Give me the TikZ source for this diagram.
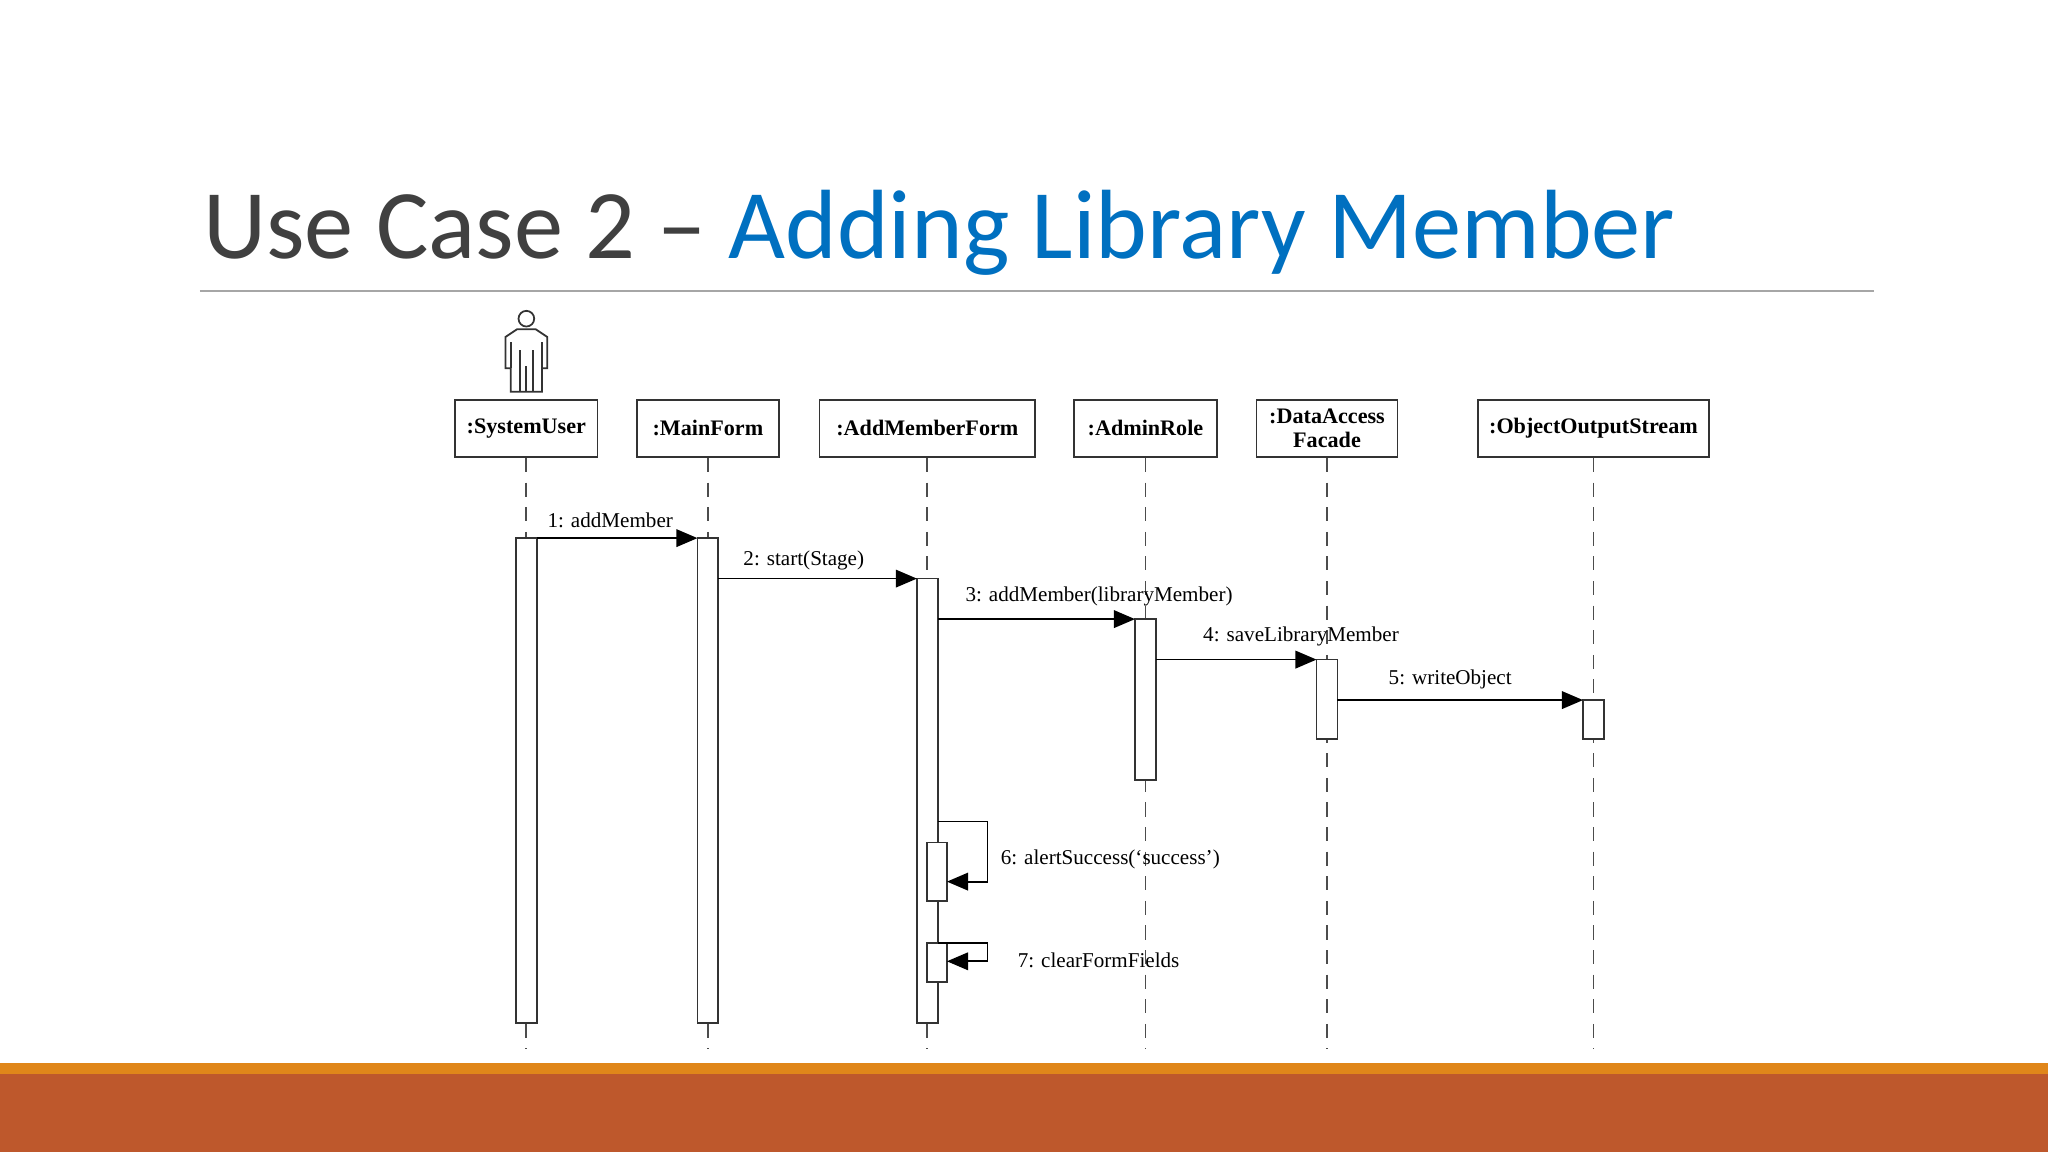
\documentclass[tikz,border=0pt]{standalone}
\usepackage{fontspec}
\setmainfont{Liberation Serif}
\newfontfamily\titlefont{Carlito}
\usetikzlibrary{arrows.meta}
\definecolor{titlegray}{HTML}{404040}
\definecolor{titleblue}{HTML}{0070C0}
\definecolor{barorange}{HTML}{E0861A}
\definecolor{barrust}{HTML}{BE582C}
\begin{document}
\begin{tikzpicture}[x=0.013061cm,y=-0.013061cm,
  obj/.style={draw=black!80,fill=white,line width=0.5pt,inner sep=0pt,font=\fontsize{6.3}{7}\selectfont\bfseries,align=center},
  life/.style={draw=black!70,dashed,line width=0.5pt,dash pattern=on 4pt off 3pt},
  act/.style={draw=black!80,fill=white,line width=0.5pt},
  msg/.style={draw=black,line width=0.5pt,-{Triangle[length=6pt,width=5pt]}},
  lbl/.style={font=\fontsize{6}{7}\selectfont,inner sep=1pt}]
\useasboundingbox (0,0) rectangle (1568,882);
\fill[white] (0,0) rectangle (1568,882);
% title
\node[anchor=base west,inner sep=0pt,font=\titlefont\fontsize{28}{30}\selectfont] (title) at (155,198)
  {\textcolor{titlegray}{Use Case 2 – }\textcolor{titleblue}{Adding Library Member}};
\draw[black!35,line width=0.6pt] (153,223) -- (1435,223);
% bottom bar
\fill[barorange] (0,814) rectangle (1568,822);
\fill[barrust] (0,822) rectangle (1568,882);
% objects
\foreach \n/\x/\w/\t in {su/403/109/{:SystemUser},mf/542/109/{:MainForm},amf/710/165/{:AddMemberForm},ar/877/109/{:AdminRole},da/1016/108/{:DataAccess\\Facade},oos/1220/177/{:ObjectOutputStream}}{
  \node[obj,minimum width=\w*0.013061cm,minimum height=44*0.013061cm] (\n) at (\x,328) {\t};
  \coordinate (\n end) at (\x,803);
  \draw[life] (\n.south) -- (\n end);
}
% actor
\node[draw=black!80,circle,minimum size=12*0.013061cm,inner sep=0pt,line width=0.5pt] (head) at (403,244) {};
\draw[black!80,line width=0.5pt] (head.south) ++(0,2) coordinate (neck);
\draw[black!80,line width=0.5pt,fill=white] (396,252) -- (410,252) -- (419,258) -- (419,282) -- (415,282) -- (415,300) -- (391,300) -- (391,282) -- (387,282) -- (387,258) -- cycle;
\draw[black!80,line width=0.5pt] (398,300) -- (398,268) (408,300) -- (408,268) (403,300)--(403,280) (391,262)--(391,282) (415,262)--(415,282);
% activations
\draw[act] (395,412) rectangle (411,783);
\draw[act] (534,412) rectangle (550,783);
\draw[act] (702,443) rectangle (718,783);
\draw[act] (869,474) rectangle (885,597);
\draw[act] (1008,505) rectangle (1024,566);
\draw[act] (1212,536) rectangle (1228,566);
\draw[act] (710,645) rectangle (725,690);
\draw[act] (710,722) rectangle (725,752);
% messages
\coordinate (m1a) at (411,412); \coordinate (m1b) at (534,412);
\coordinate (m2a) at (550,443); \coordinate (m2b) at (702,443);
\coordinate (m3a) at (718,474); \coordinate (m3b) at (869,474);
\coordinate (m4a) at (885,505); \coordinate (m4b) at (1008,505);
\coordinate (m5a) at (1024,536); \coordinate (m5b) at (1212,536);
\draw[msg] (m1a) -- (m1b); \node[lbl,anchor=west] at (416,398) {1: addMember};
\draw[msg] (m2a) -- (m2b); \node[lbl,anchor=west] at (566,429) {2: start(Stage)};
\draw[msg] (m3a) -- (m3b); \node[lbl,anchor=west] at (736,457) {3: addMember(libraryMember)};
\draw[msg] (m4a) -- (m4b); \node[lbl,anchor=west] at (918,487) {4: saveLibraryMember};
\draw[msg] (m5a) -- (m5b); \node[lbl,anchor=west] at (1060,520) {5: writeObject};
\coordinate (s6a) at (718,629); \coordinate (s6b) at (725,675);
\draw[msg] (s6a) -- (756,629) -- (756,675) -- (s6b);
\node[lbl,anchor=west] at (763,658) {6: alertSuccess(‘success’)};
\coordinate (s7a) at (718,722); \coordinate (s7b) at (725,736);
\draw[msg] (s7a) -- (756,722) -- (756,736) -- (s7b);
\node[lbl,anchor=west] at (776,735) {7: clearFormFields};
\end{tikzpicture}
\end{document}
